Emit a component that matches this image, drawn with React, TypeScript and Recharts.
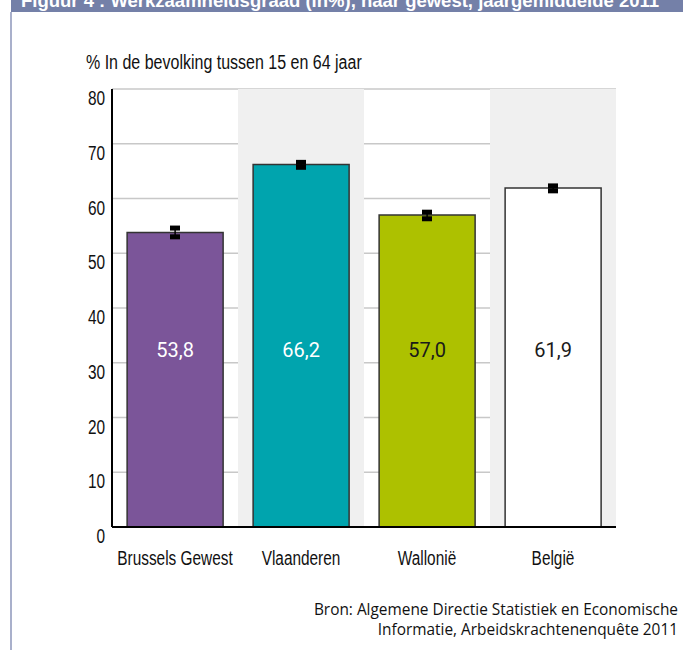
import {
  Bar,
  CartesianGrid,
  Cell,
  ComposedChart,
  ErrorBar,
  LabelList,
  ReferenceArea,
  Scatter,
  XAxis,
  YAxis,
} from "recharts";

const regions = ["Brussels Gewest", "Vlaanderen", "Wallonië", "België"];
const rates = [53.8, 66.2, 57.0, 61.9];
const errLow = [53.0, 65.7, 56.3, 61.4];
const errHigh = [54.6, 66.6, 57.5, 62.3];
const yTicks = [0, 10, 20, 30, 40, 50, 60, 70, 80];
const shadedRegions = ["Vlaanderen", "België"];

const barColors = ["#7b5599", "#00a4ae", "#adc100", "#ffffff"];
const labelColors = ["#ffffff", "#ffffff", "#1a1a1a", "#1a1a1a"];

// no condensed face installed, so squeeze Liberation Sans horizontally
const condensed = "'Liberation Sans', Arial, sans-serif";
const squeeze = 0.77;

const chartData = regions.map((name, i) => ({
  name,
  value: rates[i],
  low: errLow[i],
  high: errHigh[i],
  err: [rates[i] - errLow[i], errHigh[i] - rates[i]],
}));

const YTick = (props: any) => {
  const { x, y, payload } = props;
  return (
    <text
      transform={`translate(${x + 1},${y + 16}) scale(${squeeze},1)`}
      textAnchor="end"
      fontFamily={condensed}
      fontSize={20}
      fill="#111"
    >
      {payload.value}
    </text>
  );
};

const XTick = (props: any) => {
  const { x, y, payload } = props;
  return (
    <text
      transform={`translate(${x},${y + 30}) scale(${squeeze},1)`}
      textAnchor="middle"
      fontFamily={condensed}
      fontSize={20}
      fill="#111"
    >
      {payload.value}
    </text>
  );
};

const CapShape = (props: any) => {
  const { cx, cy } = props;
  if (cx == null || cy == null) return null;
  return <rect x={cx - 5} y={cy - 2.5} width={10} height={5} fill="#000" />;
};

const ValueLabel = (props: any) => {
  const { x, y, width, height, value, index } = props;
  return (
    <text
      x={x + width / 2}
      y={y + height - 170}
      textAnchor="middle"
      fontFamily="Roboto, sans-serif"
      fontSize={20}
      fill={labelColors[index]}
    >
      {String(value.toFixed(1)).replace(".", ",")}
    </text>
  );
};

const TitleBar = () => (
  <div
    style={{
      position: "absolute",
      top: 0,
      left: 11,
      width: 672,
      height: 12,
      overflow: "hidden",
      background: "#7480a8",
    }}
  >
    <span
      style={{
        position: "absolute",
        left: 10,
        top: -8,
        whiteSpace: "nowrap",
        color: "#fff",
        fontFamily: condensed,
        fontWeight: "bold",
        fontSize: 18.5,
        lineHeight: "18px",
      }}
    >
      Figuur 4 : Werkzaamheidsgraad (in%), naar gewest, jaargemiddelde 2011
    </span>
  </div>
);

export default function App() {
  return (
    <div style={{ position: "absolute", top: 0, left: 0, width: 683, height: 650, background: "#fff" }}>
      <TitleBar />
      <div style={{ position: "absolute", left: 10, top: 12, width: 2, height: 638, background: "#a9b0cb" }} />
      <div
        style={{
          position: "absolute",
          left: 86,
          top: 50,
          fontFamily: condensed,
          fontSize: 20,
          lineHeight: "24px",
          color: "#111",
          whiteSpace: "nowrap",
          transform: "scaleX(0.8)",
          transformOrigin: "left top",
        }}
      >
        % In de bevolking tussen 15 en 64 jaar
      </div>
      <ComposedChart
        width={683}
        height={650}
        data={chartData}
        margin={{ top: 89, right: 67, bottom: 93, left: 0 }}
        barCategoryGap="12%"
      >
        {shadedRegions.map((r) => (
          <ReferenceArea key={r} x1={r} x2={r} y1={0} y2={80} fill="#f0f0f0" fillOpacity={1} stroke="none" />
        ))}
        <CartesianGrid vertical={false} stroke="#c8c8c8" strokeWidth={1.5} />
        <XAxis
          dataKey="name"
          axisLine={{ stroke: "#000", strokeWidth: 2 }}
          tickLine={false}
          tick={<XTick />}
          height={30}
          interval={0}
        />
        <YAxis
          domain={[0, 80]}
          ticks={yTicks}
          width={112}
          axisLine={{ stroke: "#000", strokeWidth: 2 }}
          tickLine={false}
          tick={<YTick />}
          interval={0}
        />
        <Bar dataKey="value" stroke="#333" strokeWidth={1.5} isAnimationActive={false}>
          {chartData.map((d, i) => (
            <Cell key={d.name} fill={barColors[i]} />
          ))}
          <LabelList dataKey="value" content={<ValueLabel />} />
          <ErrorBar dataKey="err" width={0} stroke="#000" strokeWidth={1.5} />
        </Bar>
        <Scatter dataKey="high" shape={<CapShape />} isAnimationActive={false} />
        <Scatter dataKey="low" shape={<CapShape />} isAnimationActive={false} />
      </ComposedChart>
      <div
        style={{
          position: "absolute",
          right: 5,
          top: 600,
          textAlign: "right",
          fontFamily: "'Open Sans', sans-serif",
          fontSize: 15.4,
          lineHeight: "20px",
          color: "#111",
        }}
      >
        Bron: Algemene Directie Statistiek en Economische
        <br />
        Informatie, Arbeidskrachtenenquête 2011
      </div>
    </div>
  );
}
